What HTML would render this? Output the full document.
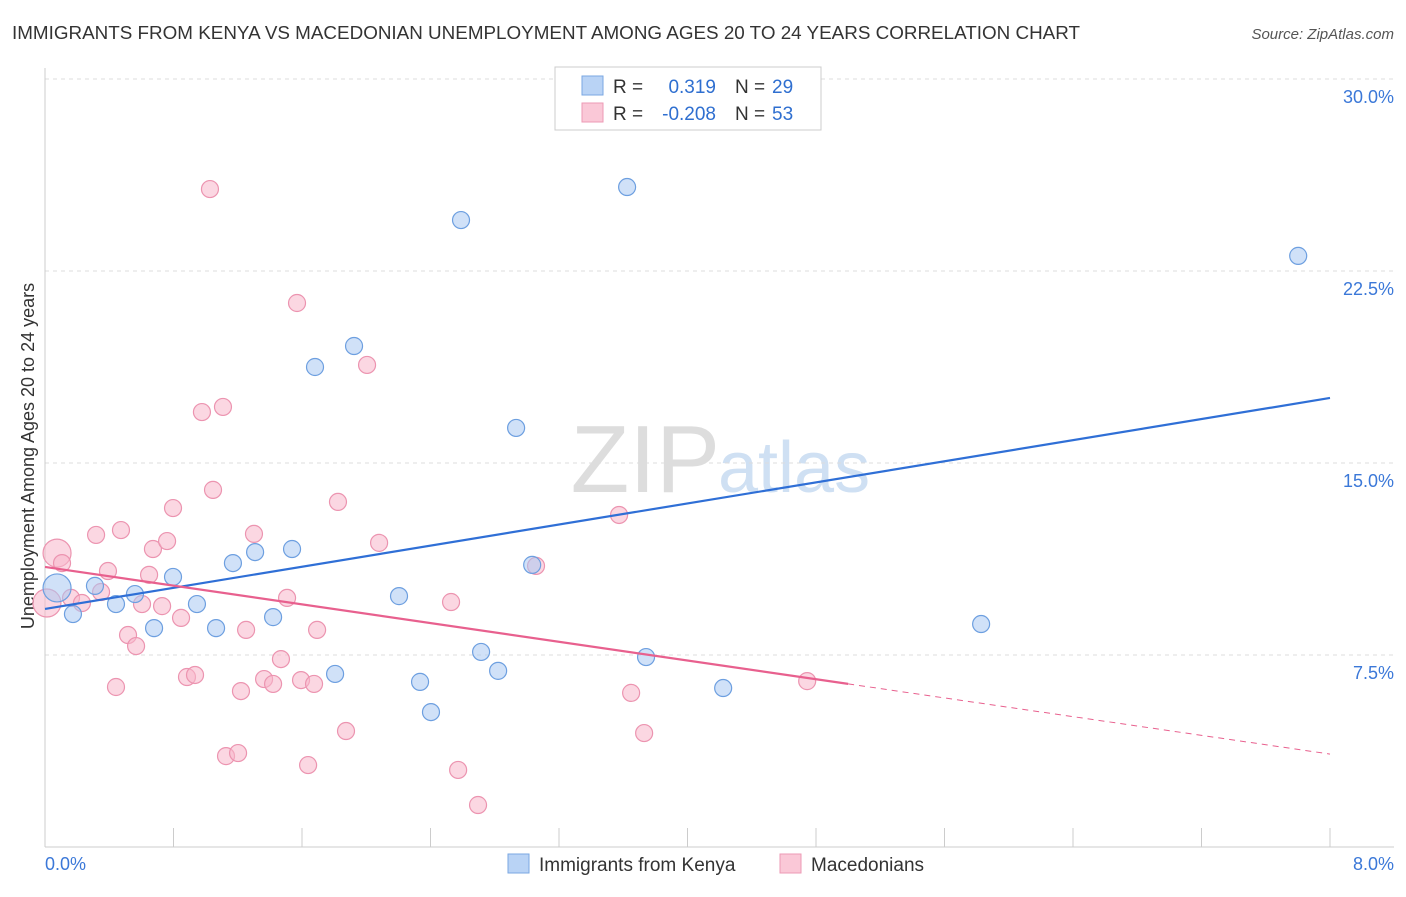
<!DOCTYPE html>
<html><head><meta charset="utf-8"><style>
body{margin:0;background:#fff;font-family:"Liberation Sans",sans-serif;}
svg text{font-family:"Liberation Sans",sans-serif;}
</style></head><body>
<svg id="c" width="1406" height="892" xmlns="http://www.w3.org/2000/svg">
<text x="12" y="39" font-size="18" fill="#333" textLength="1068" lengthAdjust="spacingAndGlyphs">IMMIGRANTS FROM KENYA VS MACEDONIAN UNEMPLOYMENT AMONG AGES 20 TO 24 YEARS CORRELATION CHART</text>
<text x="1394" y="39" font-size="15" fill="#555" text-anchor="end" font-style="italic">Source: ZipAtlas.com</text>
<text x="720" y="492" font-size="96" fill="#ddd" text-anchor="end" font-family="Liberation Serif">ZIP</text>
<text x="718" y="492" font-size="72" fill="#cfe0f3">atlas</text>
<text transform="translate(34,456) rotate(-90)" font-size="18" fill="#333" text-anchor="middle">Unemployment Among Ages 20 to 24 years</text>
<g id="grid"></g><g id="pts"></g><g id="lines"></g>
<g>
<rect x="555" y="67" width="266" height="63" fill="#fff" stroke="#ccc"/>
<rect x="582" y="76" width="21" height="19" fill="#b9d3f5" stroke="#7aa7e2"/>
<rect x="582" y="103" width="21" height="19" fill="#fac8d7" stroke="#ec9ab4"/>
<text x="613" y="93" font-size="19" fill="#333">R =</text><text x="716" y="93" font-size="19" fill="#2f6fd0" text-anchor="end">0.319</text>
<text x="735" y="93" font-size="19" fill="#333">N =</text><text x="772" y="93" font-size="19" fill="#2f6fd0">29</text>
<text x="613" y="120" font-size="19" fill="#333">R =</text><text x="716" y="120" font-size="19" fill="#2f6fd0" text-anchor="end">-0.208</text>
<text x="735" y="120" font-size="19" fill="#333">N =</text><text x="772" y="120" font-size="19" fill="#2f6fd0">53</text>
</g>
<g>
<rect x="508" y="854" width="21" height="19" fill="#b9d3f5" stroke="#7aa7e2"/>
<text x="539" y="871" font-size="19" fill="#333">Immigrants from Kenya</text>
<rect x="780" y="854" width="21" height="19" fill="#fac8d7" stroke="#ec9ab4"/>
<text x="811" y="871" font-size="19" fill="#333">Macedonians</text>
</g>
<text x="45" y="870" font-size="18" fill="#3b78d8">0.0%</text>
<text x="1394" y="870" font-size="18" fill="#3b78d8" text-anchor="end">8.0%</text>
</svg>
<script>
const yTicks=[7.5,15,22.5,30];
const yTickLabels=["7.5%","15.0%","22.5%","30.0%"];
const xTicks=[0,0.8,1.6,2.4,3.2,4.0,4.8,5.6,6.4,7.2,8.0];
const kenyaX=[0.075,0.174,0.311,0.442,0.560,0.679,0.797,0.946,1.065,1.170,1.308,1.420,1.538,1.681,1.806,1.924,2.204,2.335,2.403,2.590,2.715,2.821,2.933,3.033,3.624,3.742,4.222,5.828,7.802];
const kenyaY=[10.12,9.10,10.20,9.49,9.88,8.55,10.55,9.49,8.55,11.09,11.52,8.98,11.64,18.75,6.76,19.57,9.80,6.45,5.27,24.49,7.62,6.88,16.37,11.02,25.78,7.42,6.21,8.71,23.09];
const macX=[0.012,0.075,0.106,0.162,0.230,0.318,0.349,0.392,0.442,0.473,0.517,0.567,0.604,0.648,0.672,0.729,0.760,0.797,0.847,0.884,0.934,0.977,1.027,1.046,1.108,1.127,1.202,1.220,1.252,1.301,1.364,1.420,1.469,1.507,1.569,1.594,1.638,1.675,1.694,1.824,1.874,2.005,2.080,2.528,2.572,2.696,3.057,3.574,3.649,3.730,4.745];
const macY=[9.53,11.48,11.09,9.73,9.53,12.19,9.96,10.78,6.25,12.38,8.28,7.85,9.49,10.63,11.64,9.41,11.95,13.24,8.95,6.64,6.72,16.99,25.70,13.95,17.19,3.55,3.67,6.09,8.48,12.23,6.56,6.37,7.34,9.73,21.25,6.52,3.20,6.37,8.48,13.48,4.53,18.83,11.88,9.57,3.01,1.64,10.98,12.97,6.02,4.45,6.48];
const kenyaTrend=[9.30,17.54];
const macTrend=[10.94,3.63];const macSolidEnd=5.0;
const X=v=>45+v/8*1285, Y=v=>847-v/30*768;
const NS="http://www.w3.org/2000/svg";
function mk(t,a,p){const e=document.createElementNS(NS,t);for(const k in a)e.setAttribute(k,a[k]);p.appendChild(e);return e;}
const g=document.getElementById('grid'),P=document.getElementById('pts'),L=document.getElementById('lines');
yTicks.forEach((t,i)=>{const l=mk('line',{x1:45,x2:1394,y1:Y(t),y2:Y(t),stroke:'#ddd','stroke-dasharray':'4,4'},g);

const tx=mk('text',{x:1394,y:Y(t)+24,'font-size':18,fill:'#3b78d8','text-anchor':'end'},g);tx.textContent=yTickLabels[i];
});
const ax=mk('line',{x1:45,x2:1394,y1:847,y2:847,stroke:'#ccc'},g);
const ay=mk('line',{x1:45,x2:45,y1:68,y2:847,stroke:'#ccc'},g);
xTicks.forEach(t=>{const l=mk('line',{x1:X(t),x2:X(t),y1:828,y2:847,stroke:'#ccc'},g);});
function pts(xs,ys,fill,stroke,name){xs.forEach((x,i)=>{const r=(i<2&&name=='macedonian-point')||(i==0&&name=='kenya-point')?14:8.5;
const c=mk('circle',{cx:X(x),cy:Y(ys[i]),r:r,fill:fill,'fill-opacity':0.55,stroke:stroke,'stroke-width':1.2},P);
});}
pts(macX,macY,'#f7b6cb','#ec94b0','macedonian-point');
pts(kenyaX,kenyaY,'#a9c8f2','#6d9fe0','kenya-point');
let l1=mk('line',{x1:X(0),y1:Y(kenyaTrend[0]),x2:X(8),y2:Y(kenyaTrend[1]),stroke:'#2f6fd6','stroke-width':2.2},L);

const my=v=>macTrend[0]+(macTrend[1]-macTrend[0])*v/8;
let l2=mk('line',{x1:X(0),y1:Y(my(0)),x2:X(macSolidEnd),y2:Y(my(macSolidEnd)),stroke:'#e8608e','stroke-width':2.2},L);

let l3=mk('line',{x1:X(macSolidEnd),y1:Y(my(macSolidEnd)),x2:X(8),y2:Y(my(8)),stroke:'#e8608e','stroke-width':1,'stroke-dasharray':'6,5'},L);

</script>
</body></html>
